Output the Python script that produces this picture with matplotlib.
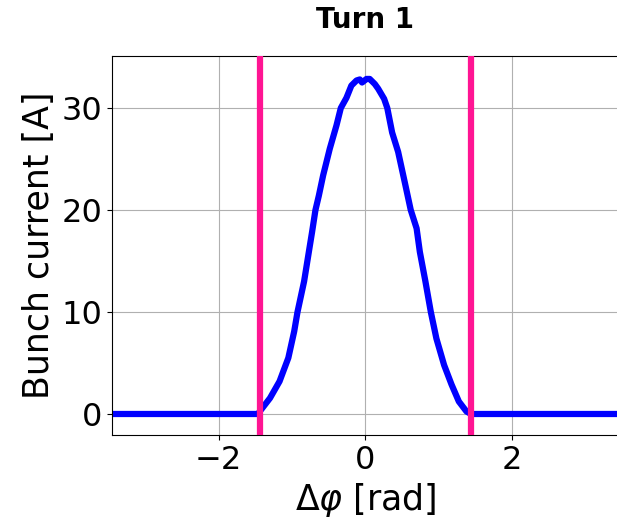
import numpy as np
import matplotlib
matplotlib.use('Agg')
import matplotlib.pyplot as plt

# Bunch profile (phase [rad], current [A])
phase = [-3.456, -1.46, -1.44, -1.30, -1.17, -1.05, -0.97, -0.925, -0.835,
         -0.77, -0.726, -0.68, -0.634, -0.575, -0.485, -0.393, -0.334,
         -0.257, -0.19, -0.12, -0.075, -0.044, 0.016, 0.06, 0.13, 0.175,
         0.257, 0.30, 0.366, 0.448, 0.539, 0.62, 0.70, 0.744, 0.82, 0.894,
         0.97, 1.075, 1.176, 1.276, 1.38, 1.44, 3.456]
current = [0.0, 0.0, 0.25, 1.56, 3.2, 5.5, 8.1, 10.0, 13.0,
           15.9, 17.85, 20.0, 21.4, 23.4, 26.0, 28.3, 30.0,
           31.0, 32.2, 32.7, 32.8, 32.5, 32.85, 32.85, 32.35, 31.9,
           30.9, 30.0, 27.6, 25.7, 22.7, 20.0, 18.2, 15.9, 13.0, 10.0,
           7.4, 4.8, 2.9, 1.23, 0.25, 0.0, 0.0]

# separatrix limits
sep_left = -1.44
sep_right = 1.44

fig = plt.figure(figsize=(6.17, 5.26), dpi=100)
ax = fig.add_axes([112/617, 91/526, 506.6/617, 379/526])

ax.plot(phase, current, color='blue', linewidth=4.5, zorder=2)
ax.axvline(sep_left, color='#ff1493', linewidth=4.5, zorder=3)
ax.axvline(sep_right, color='#ff1493', linewidth=4.5, zorder=3)

ax.set_xlim(-1.1*np.pi, 1.1*np.pi)
ax.set_ylim(-2.06, 35.1)
ax.set_xticks([-2, 0, 2])
ax.set_yticks([0, 10, 20, 30])
ax.tick_params(labelsize=23)
ax.grid(True)
ax.set_axisbelow(True)

ax.set_xlabel(r'$\Delta\varphi$ [rad]', fontsize=25)
ax.set_ylabel('Bunch current [A]', fontsize=25)
ax.set_title('Turn 1', fontsize=20, fontweight='bold', pad=20)

fig.savefig('out.png', dpi=100)
